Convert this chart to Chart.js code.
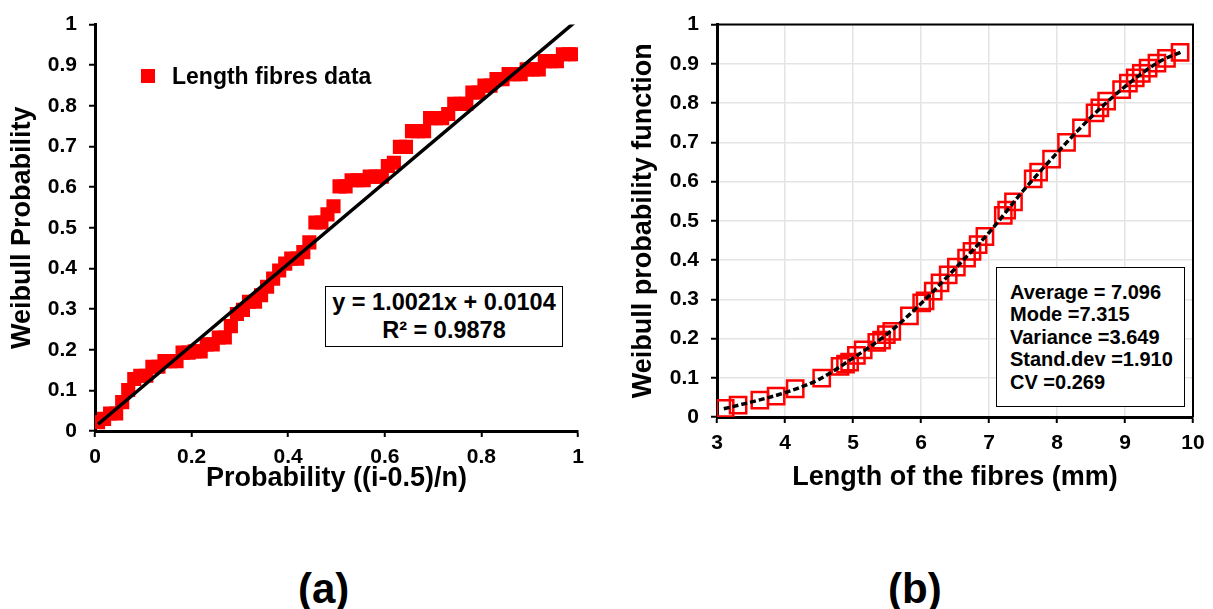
<!DOCTYPE html>
<html>
<head>
<meta charset="utf-8">
<script src="https://cdn.jsdelivr.net/npm/chart.js@4.4.1/dist/chart.umd.min.js"></script>
<style>
    body { margin: 0; background: #fff; }
    #wrap { position: relative; width: 1213px; height: 609px; overflow: hidden; font-family: "Liberation Sans", Arial, sans-serif; font-weight: bold; color: #000; }
    #wrap canvas { position: absolute; top: 0; }
    #chartA { left: 0; }
    #chartB { left: 600px; }
    .box { position: absolute; border: 1.5px solid #000; background: #fff; box-sizing: border-box; }
    #eqBox { left: 325px; top: 286px; width: 238px; height: 61px; text-align: center; font-size: 23.5px; line-height: 28px; padding-top: 1px; white-space: nowrap; }
    #statBox { left: 996px; top: 267px; width: 189px; height: 140px; font-size: 20px; line-height: 22.4px; padding: 13px 0 0 13px; white-space: nowrap; }
    #legendMark { position: absolute; left: 141px; top: 69px; width: 14px; height: 14px; background: #ff0000; }
    #legendText { position: absolute; left: 172px; top: 62px; font-size: 23px; line-height: 28px; white-space: nowrap; }
    .tag { position: absolute; top: 565px; font-size: 42px; line-height: 48px; }
</style>
</head>
<body>
<div id="wrap">
    <canvas id="chartA" width="600" height="500"></canvas>
    <canvas id="chartB" width="613" height="500"></canvas>
    <div id="legendMark"></div>
    <div id="legendText">Length fibres data</div>
    <div class="box" id="eqBox">y = 1.0021x + 0.0104<br>R² = 0.9878</div>
    <div class="box" id="statBox">Average = 7.096<br>Mode =7.315<br>Variance =3.649<br>Stand.dev =1.910<br>CV =0.269</div>
    <div class="tag" style="left:298px;">(a)</div>
    <div class="tag" style="left:888px;">(b)</div>
</div>
<script>
// (a) probability plot: plotting position (i-0.5)/n vs Weibull probability
var probPosition = [0.0063, 0.0188, 0.0313, 0.0438, 0.0563, 0.0688, 0.0813, 0.0938, 0.1063, 0.1188,
    0.1313, 0.1438, 0.1563, 0.1688, 0.1813, 0.1938, 0.2063, 0.2188, 0.2313, 0.2438,
    0.2563, 0.2688, 0.2813, 0.2938, 0.3063, 0.3188, 0.3313, 0.3438, 0.3563, 0.3688,
    0.3813, 0.3938, 0.4063, 0.4188, 0.4313, 0.4438, 0.4563, 0.4688, 0.4813, 0.4938,
    0.5063, 0.5188, 0.5313, 0.5438, 0.5563, 0.5688, 0.5813, 0.5938, 0.6063, 0.6188,
    0.6313, 0.6438, 0.6563, 0.6688, 0.6813, 0.6938, 0.7063, 0.7188, 0.7313, 0.7438,
    0.7563, 0.7688, 0.7813, 0.7938, 0.8063, 0.8188, 0.8313, 0.8438, 0.8563, 0.8688,
    0.8813, 0.8938, 0.9063, 0.9188, 0.9313, 0.9438, 0.9563, 0.9688, 0.9813, 0.9938];
var weibullProb = [0.022, 0.030, 0.043, 0.043, 0.071, 0.101, 0.128, 0.136, 0.136, 0.158,
    0.158, 0.172, 0.172, 0.172, 0.193, 0.193, 0.196, 0.196, 0.213, 0.213,
    0.230, 0.230, 0.258, 0.288, 0.298, 0.318, 0.318, 0.334, 0.355, 0.375,
    0.395, 0.412, 0.424, 0.424, 0.440, 0.464, 0.513, 0.513, 0.533, 0.553,
    0.602, 0.602, 0.617, 0.617, 0.617, 0.626, 0.626, 0.626, 0.652, 0.660,
    0.699, 0.699, 0.738, 0.738, 0.738, 0.770, 0.770, 0.770, 0.780, 0.805,
    0.805, 0.805, 0.833, 0.833, 0.850, 0.850, 0.866, 0.866, 0.878, 0.878,
    0.878, 0.890, 0.890, 0.890, 0.910, 0.910, 0.910, 0.927, 0.927, 0.927];
// linear trendline y = 1.0021x + 0.0104 at the ends of the data
var trendX = [0.0063, 0.9938];
var trendY = [0.0167, 1.0063];

// (b) fibre length vs Weibull cumulative probability
var fibreLength = [3.12, 3.31, 3.63, 3.87, 4.15, 4.54, 4.81, 4.89, 4.95, 5.05,
    5.15, 5.35, 5.42, 5.49, 5.57, 5.83, 6.01, 6.06, 6.18, 6.28,
    6.40, 6.52, 6.67, 6.75, 6.84, 6.94, 7.21, 7.26, 7.36, 7.65,
    7.73, 7.92, 8.14, 8.36, 8.56, 8.63, 8.73, 8.95, 9.05, 9.15,
    9.24, 9.34, 9.47, 9.61, 9.81];
var fibreProb = [0.022, 0.030, 0.043, 0.053, 0.072, 0.099, 0.129, 0.135, 0.140, 0.157,
    0.171, 0.190, 0.196, 0.210, 0.218, 0.258, 0.291, 0.296, 0.321, 0.342,
    0.362, 0.382, 0.405, 0.422, 0.439, 0.460, 0.514, 0.527, 0.548, 0.607,
    0.624, 0.657, 0.700, 0.737, 0.775, 0.788, 0.805, 0.834, 0.851, 0.864,
    0.876, 0.889, 0.902, 0.914, 0.929];
// fitted Weibull curve
var curveX = [3.1, 3.5, 4.0, 4.5, 5.0, 5.5, 6.0, 6.5, 7.0, 7.5, 8.0, 8.5, 9.0, 9.5, 9.85];
var curveY = [0.021, 0.038, 0.062, 0.096, 0.150, 0.211, 0.289, 0.378, 0.470, 0.576, 0.673, 0.764, 0.842, 0.905, 0.932];

document.addEventListener("DOMContentLoaded", function () {

    var fontFam = '"Liberation Sans", Arial, sans-serif';

    function toPoints(xs, ys) {
        return xs.map(function (x, i) { return { x: x, y: ys[i] }; });
    }

    function tickLabel(value) {
        return String(Math.round(value * 10) / 10);
    }

    function axis(min, max, step, title, titlePad, tickPad, size, grid) {
        return {
            type: 'linear',
            min: min,
            max: max,
            ticks: { stepSize: step, color: '#000', padding: tickPad, font: { family: fontFam, size: 21, weight: 'bold' }, callback: tickLabel },
            grid: { drawOnChartArea: grid, color: '#e4e4e4', lineWidth: 1.5, tickLength: 6, tickColor: '#000', tickWidth: 2 },
            border: { color: '#000', width: 3 },
            title: { display: true, text: title, color: '#000', font: { family: fontFam, size: 27, weight: 'bold' }, padding: titlePad },
            afterFit: size
        };
    }

    // thin frame on top and right of plot (b)
    var framePlugin = {
        id: 'frame',
        afterDraw: function (chart) {
            var a = chart.chartArea, ctx = chart.ctx;
            ctx.save();
            ctx.strokeStyle = '#000';
            ctx.lineWidth = 2;
            ctx.beginPath();
            ctx.moveTo(a.left, a.top);
            ctx.lineTo(a.right, a.top);
            ctx.lineTo(a.right, a.bottom);
            ctx.stroke();
            ctx.restore();
        }
    };

    new Chart(document.getElementById('chartA').getContext('2d'), {
        type: 'scatter',
        data: {
            datasets: [
                {
                    label: 'Length fibres data',
                    data: toPoints(probPosition, weibullProb),
                    pointStyle: 'rect',
                    pointRadius: 10,
                    backgroundColor: '#ff0000',
                    borderColor: '#ff0000',
                    borderWidth: 0,
                    order: 2
                },
                {
                    label: 'Linear',
                    type: 'line',
                    data: toPoints(trendX, trendY),
                    borderColor: '#000',
                    borderWidth: 3.5,
                    pointRadius: 0,
                    fill: false,
                    order: 1
                }
            ]
        },
        options: {
            responsive: false,
            animation: false,
            layout: { padding: { top: 20, right: 22, left: 0, bottom: 0 } },
            plugins: { legend: { display: false }, tooltip: { enabled: false } },
            scales: {
                x: axis(0, 1, 0.2, 'Probability ((i-0.5)/n)', { top: 0, bottom: 5 }, 8, function (s) { s.height = 69; }, false),
                y: axis(0, 1, 0.1, 'Weibull Probability', { top: 6, bottom: 0 }, 12, function (s) { s.width = 95; }, false)
            }
        }
    });

    new Chart(document.getElementById('chartB').getContext('2d'), {
        type: 'scatter',
        data: {
            datasets: [
                {
                    label: 'Length data',
                    data: toPoints(fibreLength, fibreProb),
                    pointStyle: 'rect',
                    pointRadius: 11.5,
                    backgroundColor: 'rgba(0,0,0,0)',
                    borderColor: '#ff0000',
                    borderWidth: 2.5,
                    order: 2
                },
                {
                    label: 'Weibull',
                    type: 'line',
                    data: toPoints(curveX, curveY),
                    borderColor: '#000',
                    borderWidth: 3.5,
                    borderDash: [6, 3],
                    cubicInterpolationMode: 'monotone',
                    pointRadius: 0,
                    fill: false,
                    order: 1
                }
            ]
        },
        options: {
            responsive: false,
            animation: false,
            layout: { padding: { top: 21, right: 20, left: 0, bottom: 0 } },
            plugins: { legend: { display: false }, tooltip: { enabled: false } },
            scales: {
                x: axis(3, 10, 1, 'Length of the fibres (mm)', { top: 0, bottom: 6 }, 8, function (s) { s.height = 83; }, true),
                y: axis(0, 1, 0.1, 'Weibull probability function', { top: 27, bottom: 0 }, 12, function (s) { s.width = 117; }, true)
            }
        },
        plugins: [framePlugin]
    });
});
</script>
</body>
</html>
